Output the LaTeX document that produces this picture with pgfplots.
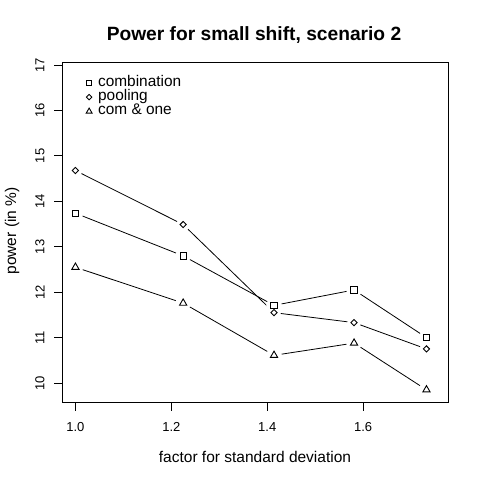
\documentclass[border=0pt]{standalone}
\usepackage{fontspec}
\setmainfont{Liberation Sans}
\usepackage{pgfplots}
\pgfplotsset{compat=1.18}
\begin{document}
\begin{tikzpicture}[x=1pt,y=1pt]
\path[use as bounding box] (0,0) rectangle (480,480);
\node[font=\fontsize{19.2}{19.2}\selectfont\bfseries] at (254,445) {Power for small shift, scenario 2};
\node[font=\fontsize{15.5}{15.5}\selectfont] at (255,23) {factor for standard deviation};
\node[font=\fontsize{15.5}{15.5}\selectfont, rotate=90] at (12,249) {power (in \%)};
\begin{axis}[
  at={(62pt,77pt)}, anchor=south west,
  scale only axis, width=386pt, height=341pt,
  xmin=0.972, xmax=1.777, ymin=9.56, ymax=17.07,
  axis line style={line width=1pt},
  tick style={line width=1pt, black},
  tick align=outside, major tick length=8pt,
  xtick={1.0,1.2,1.4,1.6}, ytick={10,11,12,13,14,15,16,17},
  xtick pos=bottom, ytick pos=left,
  /pgf/number format/assume math mode=true,
  xticklabel={\pgfmathprintnumber[fixed,fixed zerofill,precision=1]{\tick}},
  xticklabel style={font=\fontsize{13}{13}\selectfont, anchor=center, inner sep=0pt, yshift=-16pt},
  yticklabel style={font=\fontsize{13}{13}\selectfont, xshift=-14pt, rotate=90, anchor=center, inner sep=0pt},
  legend style={draw=none, fill=none, at={(0,1)}, anchor=north west, xshift=24pt, yshift=-13.5pt,
    font=\fontsize{15.4}{15.4}\selectfont, row sep=0pt, inner sep=0pt,
    nodes={inner sep=1pt, text height=9.5pt, text depth=2.8pt}},
  legend cell align=left,
  legend image code/.code={\path[draw=none, fill=none] (0pt,0pt) rectangle (10pt,0.1pt); \draw[#1] plot coordinates {(2pt,0pt)};},
  clip=false,
]
% combination
\addplot[black, line width=0.8pt, forget plot] coordinates {(1.0,13.74) (1.2247,12.80) (1.4142,11.71) (1.5811,12.05) (1.7321,11.00)};
\addplot[white, only marks, mark=*, mark size=7.5pt, mark options={draw=white, fill=white}, forget plot] coordinates {(1.0,13.74) (1.2247,12.80) (1.4142,11.71) (1.5811,12.05) (1.7321,11.00)};
% com & one
\addplot[black, line width=0.8pt, forget plot] coordinates {(1.0,12.55) (1.2247,11.76) (1.4142,10.61) (1.5811,10.88) (1.7321,9.85)};
\addplot[white, only marks, mark=*, mark size=7.5pt, mark options={draw=white, fill=white}, forget plot] coordinates {(1.0,12.55) (1.2247,11.76) (1.4142,10.61) (1.5811,10.88) (1.7321,9.85)};
% pooling
\addplot[black, line width=0.8pt, forget plot] coordinates {(1.0,14.68) (1.2247,13.49) (1.4142,11.55) (1.5811,11.33) (1.7321,10.75)};
\addplot[white, only marks, mark=*, mark size=6.5pt, mark options={draw=white, fill=white}, forget plot] coordinates {(1.0,14.68) (1.2247,13.49) (1.4142,11.55) (1.5811,11.33) (1.7321,10.75)};
% marks
\addplot[only marks, mark=square, mark size=3.2pt, mark options={black, line width=0.9pt}, forget plot] coordinates {(1.0,13.74) (1.2247,12.80) (1.4142,11.71) (1.5811,12.05) (1.7321,11.00)};
\addplot[only marks, mark=square, mark size=2.2pt, mark options={black, line width=0.9pt, rotate=45}, forget plot] coordinates {(1.0,14.68) (1.2247,13.49) (1.4142,11.55) (1.5811,11.33) (1.7321,10.75)};
\addplot[only marks, mark=triangle, mark size=4.2pt, mark options={black, line width=0.9pt}, forget plot] coordinates {(1.0,12.55) (1.2247,11.76) (1.4142,10.61) (1.5811,10.88) (1.7321,9.85)};
\addlegendimage{only marks, mark=square, mark size=2.6pt, mark options={black, line width=0.9pt}}
\addlegendentry{combination}
\addlegendimage{only marks, mark=square, mark size=1.9pt, mark options={black, line width=0.9pt, rotate=45}}
\addlegendentry{pooling}
\addlegendimage{only marks, mark=triangle, mark size=3.4pt, mark options={black, line width=0.9pt}}
\addlegendentry{com \& one}
\end{axis}
\end{tikzpicture}
\end{document}
